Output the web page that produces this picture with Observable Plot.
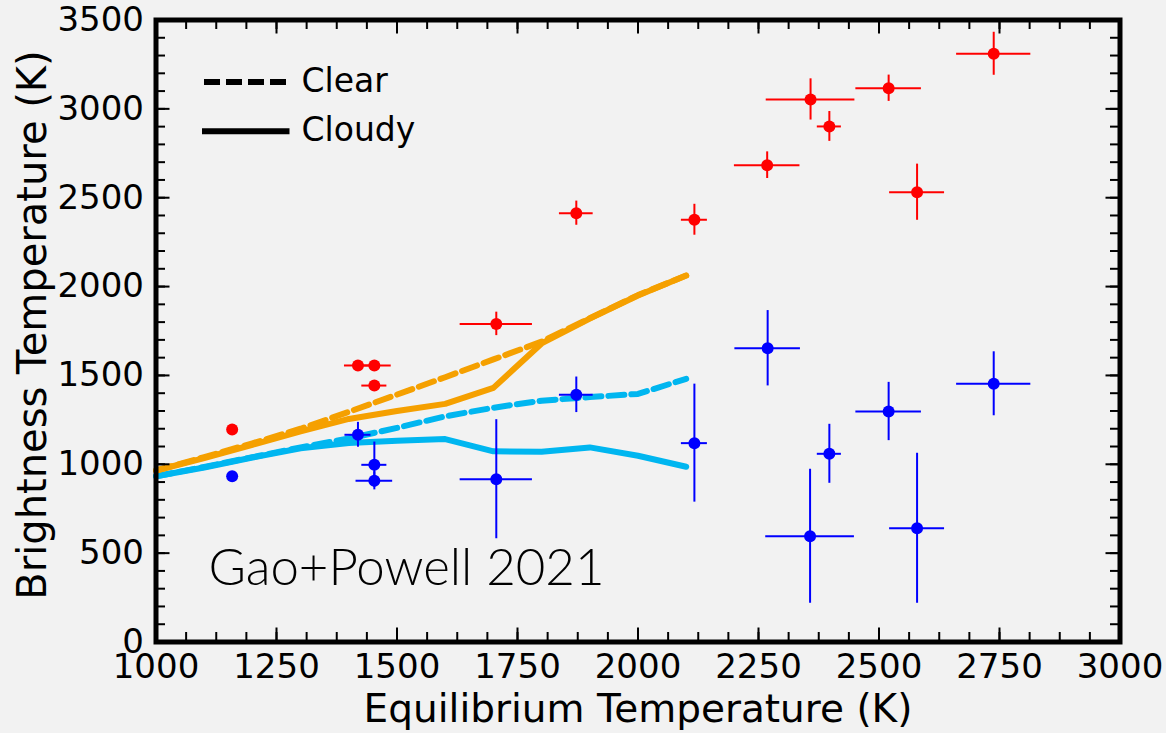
<!DOCTYPE html>
<html><head><meta charset="utf-8">
<script src="https://cdn.jsdelivr.net/npm/d3@7"></script>
<script src="https://cdn.jsdelivr.net/npm/@observablehq/plot@0.6"></script>
<style>body{margin:0;background:#f2f2f2;}</style>
</head><body><div id="chart"></div>
<script>
// Observations (dayside brightness temperature vs equilibrium temperature)
const redX    = [1158, 1419, 1453, 1453, 1706, 1872, 2117, 2268, 2358, 2397, 2520, 2579, 2738];
const redY    = [1196, 1556, 1556, 1443, 1790, 2413, 2376, 2683, 3053, 2901, 3116, 2531, 3310];
const redXerr = [0, 28, 35, 26, 75, 35, 27, 68, 92, 25, 68, 57, 77];
const redYerr = [0, 0, 0, 0, 66, 68, 87, 75, 116, 84, 74, 158, 121];

const blueX    = [1158, 1419, 1453, 1453, 1706, 1872, 2117, 2269, 2357, 2397, 2520, 2579, 2738];
const blueY    = [933, 1166, 997, 907, 916, 1391, 1119, 1653, 595, 1059, 1297, 640, 1453];
const blueXerr = [0, 27, 26, 38, 75, 35, 27, 68, 92, 25, 68, 57, 77];
const blueYerr = [0, 70, 128, 51, 335, 100, 332, 212, 377, 166, 164, 422, 180];

// Models
const modelT       = [1000, 1100, 1200, 1300, 1400, 1500, 1600, 1700, 1800, 1900, 2000, 2100];
const orangeClear  = [965, 1040, 1118, 1200, 1295, 1392, 1490, 1590, 1690, 1822, 1952, 2062];
const orangeCloudy = [965, 1035, 1110, 1185, 1255, 1300, 1340, 1430, 1680, 1820, 1950, 2062];
const cyanClear    = [933, 985, 1040, 1095, 1145, 1205, 1270, 1318, 1358, 1378, 1396, 1481];
const cyanCloudy   = [933, 982, 1038, 1090, 1120, 1132, 1142, 1073, 1071, 1095, 1048, 986];

const xMajor = [1000, 1250, 1500, 1750, 2000, 2250, 2500, 2750, 3000];
const yMajor = [0, 500, 1000, 1500, 2000, 2500, 3000, 3500];
const xMinor = d3.range(1000, 3000.001, 62.5);
const yMinor = d3.range(0, 3500.001, 100);

const legendLabels = ["Clear", "Cloudy"];
const annotation = "Gao+Powell 2021";
const xLabel = "Equilibrium Temperature (K)";
const yLabel = "Brightness Temperature (K)";

const red = redX.map((x, i) => ({x, y: redY[i], xe: redXerr[i], ye: redYerr[i]}));
const blue = blueX.map((x, i) => ({x, y: blueY[i], xe: blueXerr[i], ye: blueYerr[i]}));
const mk = (arr) => modelT.map((x, i) => ({x, y: arr[i]}));

const W = 1166, H = 733, ML = 155.5, MR = 46.5, MT = 19.5, MB = 91.5;
const PW = W - ML - MR, PH = H - MT - MB;
const ORANGE = "#f5a000", CYAN = "#00b6f0", RED = "#ff0000", BLUE = "#0000ff";
const DASH = "16,7";

function errMarks(data, color) {
  return [
    Plot.ruleY(data.filter(d => d.xe > 0), {y: "y", x1: d => d.x - d.xe, x2: d => d.x + d.xe, stroke: color, strokeWidth: 2}),
    Plot.ruleX(data.filter(d => d.ye > 0), {x: "x", y1: d => d.y - d.ye, y2: d => d.y + d.ye, stroke: color, strokeWidth: 2}),
    Plot.dot(data, {x: "x", y: "y", r: 6, fill: color, stroke: null})
  ];
}

const legend = (index, scales, values, dims) => {
  const g = d3.create("svg:g");
  const x0 = dims.marginLeft;
  g.append("line").attr("x1", x0 + 48.5).attr("x2", x0 + 131).attr("y1", 82).attr("y2", 82)
    .attr("stroke", "black").attr("stroke-width", 6).attr("stroke-dasharray", "16,6");
  g.append("line").attr("x1", x0 + 46.5).attr("x2", x0 + 134).attr("y1", 131.3).attr("y2", 131.3)
    .attr("stroke", "black").attr("stroke-width", 6);
  g.selectAll("text").data(legendLabels).join("text")
    .attr("x", x0 + 146).attr("y", (d, i) => i === 0 ? 91.7 : 141)
    .attr("text-anchor", "start")
    .attr("font-size", 33).attr("font-family", "DejaVu Sans").attr("fill", "black")
    .text(d => d);
  return g.node();
};

const chart = Plot.plot({
  width: W, height: H,
  marginLeft: ML, marginRight: MR, marginTop: MT, marginBottom: MB,
  style: {background: "#f2f2f2", fontFamily: "DejaVu Sans, sans-serif", fontSize: "34px"},
  x: {domain: [1000, 3000]},
  y: {domain: [0, 3500]},
  marks: [
    Plot.line(mk(cyanClear), {x: "x", y: "y", stroke: CYAN, strokeWidth: 6, strokeDasharray: DASH}),
    Plot.line(mk(cyanCloudy), {x: "x", y: "y", stroke: CYAN, strokeWidth: 6}),
    Plot.line(mk(orangeClear), {x: "x", y: "y", stroke: ORANGE, strokeWidth: 6, strokeDasharray: DASH}),
    Plot.line(mk(orangeCloudy), {x: "x", y: "y", stroke: ORANGE, strokeWidth: 6}),
    ...errMarks(red, RED),
    ...errMarks(blue, BLUE),
    // inward ticks on all four sides
    Plot.ruleX(xMinor, {x: d => d, insetTop: PH - 9.5, stroke: "black", strokeWidth: 2}),
    Plot.ruleX(xMinor, {x: d => d, insetBottom: PH - 9.5, stroke: "black", strokeWidth: 2}),
    Plot.ruleX(xMajor, {x: d => d, insetTop: PH - 14, stroke: "black", strokeWidth: 2}),
    Plot.ruleX(xMajor, {x: d => d, insetBottom: PH - 14, stroke: "black", strokeWidth: 2}),
    Plot.ruleY(yMinor, {y: d => d, insetRight: PW - 9.5, stroke: "black", strokeWidth: 2}),
    Plot.ruleY(yMinor, {y: d => d, insetLeft: PW - 9.5, stroke: "black", strokeWidth: 2}),
    Plot.ruleY(yMajor, {y: d => d, insetRight: PW - 14, stroke: "black", strokeWidth: 2}),
    Plot.ruleY(yMajor, {y: d => d, insetLeft: PW - 14, stroke: "black", strokeWidth: 2}),
    Plot.frame({stroke: "black", strokeWidth: 5}),
    Plot.axisX({ticks: xMajor, tickSize: 0, tickPadding: 12, tickFormat: d3.format("d"), fontSize: 34, label: null}),
    Plot.axisY({ticks: yMajor, tickSize: 0, tickPadding: 12, tickFormat: d3.format("d"), fontSize: 34, label: null}),
    Plot.text([xLabel], {text: d => d, frameAnchor: "bottom", textAnchor: "middle", lineAnchor: "middle", dy: 68, fontSize: 39, fill: "black"}),
    Plot.text([yLabel], {text: d => d, frameAnchor: "left", textAnchor: "middle", lineAnchor: "middle", dx: -123, dy: -6, rotate: -90, fontSize: 40, fill: "black"}),
    Plot.text([annotation], {text: d => d, frameAnchor: "bottom-left", textAnchor: "start", lineAnchor: "middle", dx: 52.5, dy: -73, fontSize: 51, fontFamily: "Lato", fontWeight: 300, fill: "black"}),
    legend
  ]
});
document.getElementById("chart").appendChild(chart);
</script></body></html>
